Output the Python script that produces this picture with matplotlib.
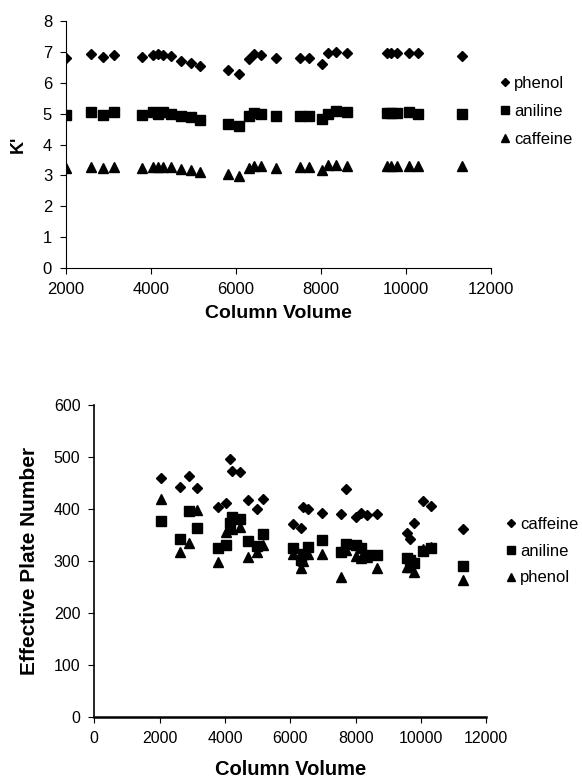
import numpy as np
import matplotlib
matplotlib.use("Agg")
from matplotlib import pyplot as plt

plt.rcParams['font.family'] = ['Liberation Sans', 'DejaVu Sans']

# Grafico superior: K' x volume de coluna
vol_k = [2000, 2580, 2880, 3140, 3780, 4040, 4170, 4290, 4460, 4710,
         4940, 5150, 5820, 6070, 6300, 6420, 6600, 6950, 7510, 7710,
         8030, 8170, 8350, 8620, 9560, 9660, 9780, 10080, 10290, 11310]
k_phenol = [6.79, 6.93, 6.82, 6.90, 6.85, 6.90, 6.92, 6.90, 6.87, 6.72,
            6.65, 6.55, 6.41, 6.28, 6.76, 6.93, 6.90, 6.79, 6.80, 6.80,
            6.62, 6.98, 7.00, 6.97, 6.97, 6.97, 6.98, 6.97, 6.97, 6.87]
k_aniline = [4.97, 5.05, 4.97, 5.04, 4.97, 5.04, 5.00, 5.04, 4.98, 4.92,
             4.88, 4.81, 4.66, 4.60, 4.92, 5.03, 4.99, 4.93, 4.93, 4.93,
             4.84, 5.00, 5.08, 5.04, 5.03, 5.03, 5.03, 5.04, 5.00, 4.98]
k_caffeine = [3.23, 3.28, 3.23, 3.28, 3.23, 3.28, 3.28, 3.28, 3.28, 3.20,
              3.17, 3.12, 3.04, 2.99, 3.23, 3.29, 3.29, 3.23, 3.28, 3.28,
              3.17, 3.33, 3.33, 3.30, 3.30, 3.30, 3.30, 3.32, 3.30, 3.29]

# Grafico inferior: numero de pratos efetivos x volume de coluna
vol_n = [2040, 2620, 2910, 3150, 3800, 4030, 4150, 4210, 4460, 4710,
         4970, 5170, 6090, 6330, 6400, 6550, 6960, 7540, 7700, 8010,
         8180, 8360, 8640, 9560, 9660, 9790, 10050, 10310, 11300]
n_caffeine = [460, 443, 464, 441, 404, 411, 496, 473, 471, 417,
              400, 420, 371, 364, 404, 400, 393, 391, 438, 385,
              393, 388, 390, 353, 342, 372, 416, 406, 361]
n_aniline = [377, 343, 396, 363, 325, 330, 372, 385, 380, 339,
             328, 352, 324, 302, 314, 327, 341, 318, 332, 330,
             324, 311, 311, 305, 302, 295, 319, 324, 291]
n_phenol = [420, 318, 335, 398, 298, 356, 369, 362, 365, 308,
            318, 330, 314, 286, 300, 313, 313, 268, 320, 310,
            305, 308, 286, 289, 288, 279, 322, 327, 263]

fig = plt.figure(figsize=(5.82, 7.78), dpi=100)

#Grafico 1
ax1 = fig.add_axes([0.1134, 0.6555, 0.730, 0.3175])
ax1.plot(vol_k, k_phenol, "D", color="black", markersize=5.5, label="phenol")
ax1.plot(vol_k, k_aniline, "s", color="black", markersize=7, label="aniline")
ax1.plot(vol_k, k_caffeine, "^", color="black", markersize=7, label="caffeine")
ax1.set_xlim(2000, 12000)
ax1.set_ylim(0, 8)
ax1.set_xticks(np.arange(2000, 12001, 2000))
ax1.set_yticks(np.arange(0, 9, 1))
ax1.spines["top"].set_visible(False)
ax1.spines["right"].set_visible(False)
ax1.tick_params(direction="out", length=4, width=0.8, labelsize=12, pad=6)
ax1.set_xlabel("Column Volume", fontsize=14, fontweight="bold")
ax1.xaxis.set_label_coords(0.5, -0.15)
ax1.set_ylabel("K'", fontsize=13, fontweight="bold", va="center", ha="center")
ax1.yaxis.set_label_coords(-0.112, 0.5)
fig.legend(handles=ax1.get_lines(), loc="center left",
           bbox_to_anchor=(0.857, 0.8567), frameon=False, fontsize=12,
           handlelength=0.7, handletextpad=0.2, labelspacing=0.8,
           borderpad=0, borderaxespad=0, markerscale=0.8)

#Grafico 2
ax2 = fig.add_axes([0.162, 0.0788, 0.6735, 0.4006])
ax2.plot(vol_n, n_caffeine, "D", color="black", markersize=5.5, label="caffeine")
ax2.plot(vol_n, n_aniline, "s", color="black", markersize=7, label="aniline")
ax2.plot(vol_n, n_phenol, "^", color="black", markersize=7, label="phenol")
ax2.set_xlim(0, 12000)
ax2.set_ylim(0, 600)
ax2.set_xticks(np.arange(0, 12001, 2000))
ax2.set_yticks(np.arange(0, 601, 100))
ax2.spines["top"].set_visible(False)
ax2.spines["right"].set_visible(False)
ax2.spines["bottom"].set_linewidth(1.8)
ax2.spines["left"].set_linewidth(1.2)
ax2.tick_params(direction="out", length=4, width=0.8, labelsize=11.5, pad=6)
ax2.set_xlabel("Column Volume", fontsize=14.5, fontweight="bold")
ax2.xaxis.set_label_coords(0.5, -0.139)
ax2.set_ylabel("Effective Plate Number", fontsize=15, fontweight="bold",
               va="center", ha="center")
ax2.yaxis.set_label_coords(-0.164, 0.5)
fig.legend(handles=ax2.get_lines(), loc="center left",
           bbox_to_anchor=(0.868, 0.2914), frameon=False, fontsize=12,
           handlelength=0.7, handletextpad=0.2, labelspacing=0.7,
           borderpad=0, borderaxespad=0, markerscale=0.8)

plt.savefig("out.png", dpi=100)
